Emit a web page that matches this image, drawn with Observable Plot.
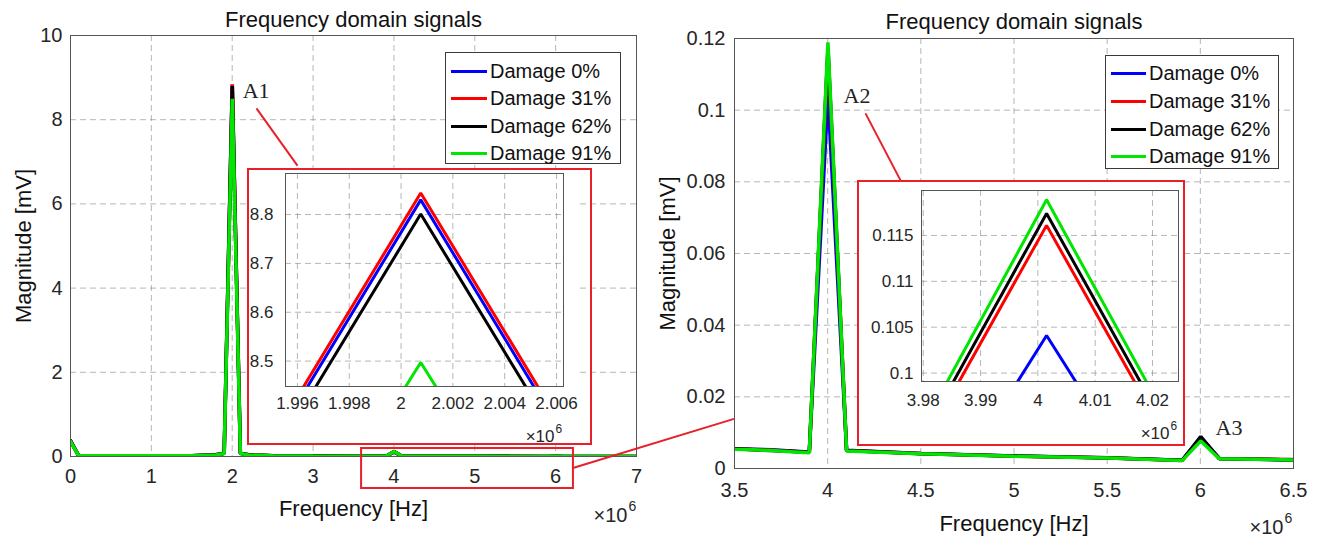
<!DOCTYPE html>
<html><head><meta charset="utf-8">
<script src="https://cdn.jsdelivr.net/npm/d3@7"></script>
<script src="https://cdn.jsdelivr.net/npm/@observablehq/plot@0.6"></script>
<style>
body{margin:0;background:#fff;}
#root{position:relative;width:1327px;height:539px;overflow:hidden;font-family:"Liberation Sans",Arial,Helvetica,sans-serif;background:#fff;}
.legend{position:absolute;background:#fff;border:1px solid #3a3a3a;box-sizing:border-box;}
.legend .row{position:absolute;left:0;right:0;height:24px;}
.legend .sw{position:absolute;height:3px;top:11px;}
.legend .lb{position:absolute;top:0;font-size:20px;line-height:24px;color:#111;white-space:nowrap;}
.redbox{position:absolute;border:2px solid #e8202a;box-sizing:border-box;}
</style></head><body><div id="root"></div>
<script>
// ---------- data ----------
const seriesNames = ["Damage 0%", "Damage 31%", "Damage 62%", "Damage 91%"];
const seriesColors = ["#0000ff", "#ff0000", "#000000", "#00e600"];
// FFT bin frequencies (x 10^6 Hz)
const binMHz = [0, 0.100038, 0.500190, 1.000380, 1.500570, 1.800684, 1.900722, 2.000760, 2.100798, 2.200836, 2.500950, 3.001140,
  3.501330, 3.601368, 3.701406, 3.801444, 3.901482, 4.001520, 4.101558, 4.501710, 5.001900, 5.502090, 5.902242, 6.002280,
  6.102318, 6.502470, 7.002660];
const damage0 = [0.38, 0.020, 0.016, 0.015, 0.020, 0.040, 0.075, 8.830, 0.075, 0.040, 0.020, 0.012,
  0.0056, 0.0054, 0.0052, 0.0049, 0.0046, 0.1041, 0.0051, 0.0042, 0.0035, 0.0030, 0.0023, 0.0087, 0.0028, 0.0024, 0.0021];
const damage31 = [0.37, 0.020, 0.016, 0.015, 0.020, 0.041, 0.076, 8.844, 0.076, 0.041, 0.020, 0.012,
  0.0055, 0.0053, 0.0051, 0.0048, 0.0045, 0.1161, 0.0050, 0.0042, 0.0034, 0.0030, 0.0022, 0.0083, 0.0028, 0.0025, 0.0022];
const damage62 = [0.37, 0.020, 0.016, 0.015, 0.020, 0.040, 0.074, 8.801, 0.074, 0.040, 0.020, 0.012,
  0.0055, 0.0052, 0.0050, 0.0048, 0.0045, 0.1174, 0.0050, 0.0041, 0.0035, 0.0029, 0.0023, 0.0089, 0.0027, 0.0024, 0.0021];
const damage91 = [0.36, 0.019, 0.015, 0.015, 0.019, 0.038, 0.070, 8.497, 0.070, 0.038, 0.019, 0.011,
  0.0054, 0.0052, 0.0050, 0.0047, 0.0044, 0.1189, 0.0049, 0.0041, 0.0034, 0.0029, 0.0022, 0.0077, 0.0027, 0.0024, 0.0021];

const leftXTicks = [0, 1, 2, 3, 4, 5, 6, 7];
const leftYTicks = [0, 2, 4, 6, 8, 10];
const rightXTicks = [3.5, 4, 4.5, 5, 5.5, 6, 6.5];
const rightYTicks = [0, 0.02, 0.04, 0.06, 0.08, 0.1, 0.12];
const inset1XTicks = [1.996, 1.998, 2, 2.002, 2.004, 2.006];
const inset1YTicks = [8.5, 8.6, 8.7, 8.8];
const inset2XTicks = [3.98, 3.99, 4, 4.01, 4.02];
const inset2YTicks = [0.1, 0.105, 0.11, 0.115];

const titleText = "Frequency domain signals";
const xLabel = "Frequency [Hz]";
const yLabel = "Magnitude [mV]";

// ---------- build tidy table ----------
const allSeries = [damage0, damage31, damage62, damage91];
const table = [];
allSeries.forEach((vals, i) => vals.forEach((v, j) => table.push({f: binMHz[j], v, s: seriesNames[i]})));

const FONT = "'Liberation Sans', Arial, Helvetica, sans-serif";
const SERIF = "'Liberation Serif', 'Times New Roman', serif";
const RED = "#e8202a";
const root = document.getElementById("root");

function place(el, left, top) {
  el.style.position = "absolute"; el.style.left = left + "px"; el.style.top = top + "px";
  root.appendChild(el); return el;
}

const gridStyle = {stroke: "#7a7a7a", strokeOpacity: 0.55, strokeDasharray: "6,4", strokeWidth: 1};

function expo(dx, dy, fs) {
  return [
    Plot.text(["×10"], {frameAnchor: "bottom-right", textAnchor: "end", lineAnchor: "middle", dx: dx, dy: dy, fontSize: fs, fill: "#262626"}),
    Plot.text(["6"], {frameAnchor: "bottom-right", textAnchor: "start", lineAnchor: "middle", dx: dx + 1, dy: dy - fs * 0.45, fontSize: fs * 0.7, fill: "#262626"})
  ];
}

function makePlot(c) {
  return Plot.plot({
    width: c.w, height: c.h,
    marginLeft: c.ml, marginRight: c.mr, marginTop: c.mt, marginBottom: c.mb,
    style: {fontFamily: FONT, fontSize: c.fs + "px", color: "#262626", background: "transparent", overflow: "visible"},
    x: {domain: c.xd},
    y: {domain: c.yd},
    color: {domain: seriesNames, range: seriesColors},
    marks: [
      c.bg ? Plot.frame({fill: "#fff", stroke: null}) : null,
      Plot.gridX(c.xt, gridStyle),
      Plot.gridY(c.yt, gridStyle),
      Plot.line(table, {x: "f", y: "v", z: "s", stroke: "s", strokeWidth: c.sw, clip: true, strokeLinejoin: "miter"}),
      Plot.frame({stroke: "#555", strokeWidth: 1}),
      Plot.axisX(c.xt, {tickSize: 0, tickPadding: c.xpad, tickFormat: d => String(d), label: null}),
      Plot.axisY(c.yt, {tickSize: 0, tickPadding: c.ypad, tickFormat: d => String(d), label: null}),
      ...(c.extra || [])
    ]
  });
}

// ---------- left main ----------
const L = {left: 0, top: 0};
const leftPlot = makePlot({
  w: 660, h: 539, ml: 70, mr: 24, mt: 35, mb: 83, fs: 20,
  xd: [0, 7], yd: [0, 10], xt: leftXTicks, yt: leftYTicks, sw: 3.5, xpad: 12, ypad: 8,
  extra: [
    Plot.text([titleText], {frameAnchor: "top", dy: -16, lineAnchor: "middle", fontSize: 22, fill: "#111"}),
    Plot.text([xLabel], {frameAnchor: "bottom", dy: 52, lineAnchor: "middle", fontSize: 22, fill: "#111"}),
    Plot.text([yLabel], {frameAnchor: "left", dx: -47, rotate: -90, textAnchor: "middle", lineAnchor: "middle", fontSize: 22, fill: "#111"}),
    ...expo(-9, 59, 20),
    Plot.rect([{x1: 3.60, x2: 6.22, y1: -0.76, y2: 0.19}], {x1: "x1", x2: "x2", y1: "y1", y2: "y2", fill: "none", stroke: RED, strokeWidth: 2}),
    Plot.link([{x1: 2.30, y1: 8.27, x2: 2.807, y2: 6.91}], {x1: "x1", y1: "y1", x2: "x2", y2: "y2", stroke: RED, strokeWidth: 2}),
    Plot.text([{x: 2.13, y: 8.69, t: "A1"}], {x: "x", y: "y", text: "t", textAnchor: "start", lineAnchor: "middle", fontFamily: SERIF, fontSize: 22, fill: "#222"})
  ]
});
place(leftPlot, L.left, L.top);

// ---------- right main ----------
const R = {left: 660, top: 0};
const rightPlot = makePlot({
  w: 667, h: 539, ml: 74, mr: 34, mt: 38, mb: 71, fs: 20,
  xd: [3.5, 6.5], yd: [0, 0.12], xt: rightXTicks, yt: rightYTicks, sw: 3.5, xpad: 14, ypad: 9,
  extra: [
    Plot.text([titleText], {frameAnchor: "top", dy: -17, lineAnchor: "middle", fontSize: 22, fill: "#111"}),
    Plot.text([xLabel], {frameAnchor: "bottom", dy: 55, lineAnchor: "middle", fontSize: 22, fill: "#111"}),
    Plot.text([yLabel], {frameAnchor: "left", dx: -67, rotate: -90, textAnchor: "middle", lineAnchor: "middle", fontSize: 22, fill: "#111"}),
    ...expo(-10, 59, 20),
    Plot.link([{x1: 4.203, y1: 0.0991, x2: 4.391, y2: 0.0804}], {x1: "x1", y1: "y1", x2: "x2", y2: "y2", stroke: RED, strokeWidth: 2}),
    Plot.text([{x: 4.085, y: 0.1041, t: "A2"}, {x: 6.082, y: 0.0112, t: "A3"}], {x: "x", y: "y", text: "t", textAnchor: "start", lineAnchor: "middle", fontFamily: SERIF, fontSize: 22, fill: "#222"})
  ]
});
place(rightPlot, R.left, R.top);

// ---------- legends ----------
function legend(left, top, w, h, firstY, step, swX, swW, txtX) {
  const d = document.createElement("div");
  d.className = "legend";
  d.style.width = w + "px"; d.style.height = h + "px";
  seriesNames.forEach((n, i) => {
    const r = document.createElement("div"); r.className = "row"; r.style.top = (firstY + i * step - 12) + "px";
    const s = document.createElement("div"); s.className = "sw"; s.style.left = swX + "px"; s.style.width = swW + "px"; s.style.background = seriesColors[i];
    const t = document.createElement("div"); t.className = "lb"; t.style.left = txtX + "px"; t.textContent = n;
    r.appendChild(s); r.appendChild(t); d.appendChild(r);
  });
  return place(d, left, top);
}
legend(445, 52, 176, 112, 18, 27.3, 5, 36, 44);
legend(1105, 55, 174, 114, 17, 27.8, 5, 35, 43);

// ---------- insets ----------
function inset(left, top, w, h, bgW, cfg) {
  const bg = document.createElement("div");
  bg.style.background = "#fff"; bg.style.width = bgW + "px"; bg.style.height = h + "px";
  place(bg, left, top);
  const p = makePlot(Object.assign({w, h, fs: 17, sw: 3}, cfg));
  place(p, left, top);
  const b = document.createElement("div"); b.className = "redbox";
  b.style.width = w + "px"; b.style.height = h + "px";
  place(b, left, top);
  return p;
}
inset(247, 168, 345, 277, 332, {
  ml: 38, mr: 29, mt: 5, mb: 59, xd: [1.99554, 2.00627], yd: [8.448, 8.884],
  xt: inset1XTicks, yt: inset1YTicks, xpad: 10, ypad: 12, bg: true,
  extra: [...expo(-9, 50, 17)]
});
inset(857, 180, 328, 266, 328, {
  ml: 64, mr: 7, mt: 10, mb: 65, xd: [3.9797, 4.02453], yd: [0.09908, 0.1199],
  xt: inset2XTicks, yt: inset2YTicks, xpad: 12, ypad: 8, bg: true,
  extra: [...expo(-9, 52, 17)]
});

// ---------- connector between panels (through both plots' scales) ----------
const connFrom = {x: 6.22, y: -0.285};   // left panel data coords
const connTo = {x: 3.5, y: 0.0137};      // right panel data coords
const p1 = [L.left + leftPlot.scale("x").apply(connFrom.x), L.top + leftPlot.scale("y").apply(connFrom.y)];
const p2 = [R.left + rightPlot.scale("x").apply(connTo.x), R.top + rightPlot.scale("y").apply(connTo.y)];
const ov = d3.create("svg").attr("width", 1327).attr("height", 539).style("pointer-events", "none");
ov.append("line").attr("x1", p1[0]).attr("y1", p1[1]).attr("x2", p2[0]).attr("y2", p2[1])
  .attr("stroke", RED).attr("stroke-width", 2);
place(ov.node(), 0, 0);
</script></body></html>
